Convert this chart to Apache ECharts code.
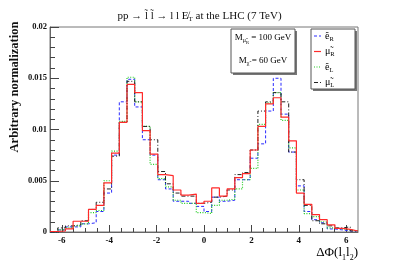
<!DOCTYPE html>
<html>
<head>
<meta charset="utf-8">
<script src="https://cdn.jsdelivr.net/npm/echarts@6/dist/echarts.min.js"></script>
<style>html,body{margin:0;padding:0;background:#fff}#c{width:399px;height:270px}</style>
</head>
<body>
<div id="c"></div>
<script>
// ---- data ----
const xMin = -6.5, xMax = 6.5, binWidth = 0.325;
const seriesNames = ['eR', 'muR', 'eL', 'muL'];
const eR = [0, 0.0002, 0.0005, 0.0005, 0.0008, 0.0009, 0.0020, 0.0038, 0.0075, 0.0127,
  0.0149, 0.0122, 0.0090, 0.0075, 0.0051, 0.0042, 0.0030, 0.0030, 0.0028, 0.0025,
  0.0020, 0.0034, 0.0030, 0.0031, 0.0051, 0.0051, 0.0072, 0.0086, 0.0118, 0.0150,
  0.0115, 0.0078, 0.0045, 0.0020, 0.0012, 0.0009, 0.0003, 0.0002, 0.0001, 0.0001];
const muR = [0.00005, 0.0001, 0.0003, 0.00105, 0.00105, 0.0022, 0.0026, 0.0048, 0.0077, 0.0107,
  0.0144, 0.0136, 0.0099, 0.0076, 0.0056, 0.0055, 0.0041, 0.0036, 0.0037, 0.0028,
  0.0030, 0.0043, 0.0035, 0.0042, 0.0053, 0.0057, 0.0080, 0.0103, 0.0125, 0.0131,
  0.0112, 0.0089, 0.0038, 0.0027, 0.0017, 0.0012, 0.0007, 0.00036, 0.00026, 0.0001];
const eL = [0, 0.0002, 0.0004, 0.0006, 0.0008, 0.0019, 0.0021, 0.0050, 0.0079, 0.0108,
  0.0151, 0.0127, 0.0103, 0.0066, 0.0052, 0.0044, 0.0031, 0.0028, 0.0028, 0.0019,
  0.0018, 0.0026, 0.0031, 0.0032, 0.0042, 0.0051, 0.0062, 0.0105, 0.0126, 0.0136,
  0.0109, 0.0082, 0.0041, 0.0018, 0.0015, 0.0010, 0.0004, 0.0003, 0.0002, 0.0001];
const muL = [0, 0.0004, 0.0006, 0.0007, 0.0011, 0.0022, 0.0029, 0.0042, 0.0074, 0.0107,
  0.0147, 0.0127, 0.0103, 0.0090, 0.0059, 0.0047, 0.0038, 0.0035, 0.0035, 0.0028,
  0.0029, 0.0034, 0.0035, 0.0041, 0.0056, 0.0058, 0.0080, 0.0118, 0.0127, 0.0136,
  0.0127, 0.0078, 0.0051, 0.0026, 0.0011, 0.0008, 0.0006, 0.0004, 0.0005, 0.0001];
const xMajorTicks = [-6, -4, -2, 0, 2, 4, 6];
const xMinorTicks = [-6, -5.5, -5, -4.5, -4, -3.5, -3, -2.5, -2, -1.5, -1, -0.5, 0, 0.5, 1, 1.5, 2, 2.5, 3, 3.5, 4, 4.5, 5, 5.5, 6];
const yTickLabels = ['0', '0.005', '0.01', '0.015', '0.02'];
const legendLabels = ['{m|ẽ}{s|R}', '{m|μ̃}{s|R}', '{m|ẽ}{s|L}', '{m|μ̃}{s|L}'];

// histogram outline points: each bin's left edge, plus final right edge
function histPoints(vals) {
  const pts = vals.map((v, i) => [xMin + i * binWidth, v]);
  pts.push([xMin + vals.length * binWidth, vals[vals.length - 1]]);
  return pts;
}

const styles = {
  eR:  { color: '#2a2aff', type: [3, 2], width: 1 },
  muR: { color: '#ff2a2a', type: 'solid', width: 1.2 },
  eL:  { color: '#22cc22', type: [1, 1.5], width: 1.2 },
  muL: { color: '#222222', type: [4, 2, 1, 2], width: 1 }
};
const valuesByName = { eR, muR, eL, muL };

const serif = '"Liberation Serif", "DejaVu Serif", serif';
const chart = echarts.init(document.getElementById('c'), null, { renderer: 'canvas' });

// manual legend (lines + rich text) inside a shadowed box
const legendGraphics = [];
seriesNames.forEach((n, i) => {
  const y = 36 + i * 15.5;
  legendGraphics.push({ type: 'line', shape: { x1: 314, y1: y, x2: 321, y2: y },
    style: { stroke: styles[n].color, lineWidth: styles[n].width,
      lineDash: styles[n].type === 'solid' ? null : styles[n].type }, silent: true });
  legendGraphics.push({ type: 'text', x: 325, y: y, style: {
    text: legendLabels[i], align: 'left', verticalAlign: 'middle',
    rich: { m: { fontFamily: serif, fontSize: 10, color: '#111' },
            s: { fontFamily: serif, fontSize: 6.5, color: '#111', padding: [6, 0, 0, 0] } } } });
});

chart.setOption({
  animation: false,
  backgroundColor: '#fff',
  title: {
    text: '{a|pp → l̃ l̃ → l l E̸}{s|T}{a| at the LHC (7 TeV)}',
    left: 'center', top: 5,
    textStyle: { fontWeight: 'normal', rich: {
      a: { fontFamily: serif, fontSize: 11, fontWeight: 'normal', color: '#111' },
      s: { fontFamily: serif, fontSize: 7, fontWeight: 'normal', color: '#111', padding: [6, 0, 0, 0] }
    } }
  },
  grid: { left: 50, right: 41, top: 27, bottom: 38, show: true, borderColor: '#777', borderWidth: 1, backgroundColor: 'transparent' },
  xAxis: [{
    type: 'value', min: xMin, max: xMax,
    axisLine: { show: true, onZero: false, lineStyle: { color: '#666', width: 1 } },
    axisTick: { show: true, inside: true, length: 7, customValues: xMajorTicks, lineStyle: { color: '#444' } },
    axisLabel: { show: true, customValues: xMajorTicks, margin: 4, fontFamily: serif, fontWeight: 'bold', fontSize: 9, color: '#111' },
    splitLine: { show: false }
  }, {
    type: 'value', min: xMin, max: xMax, gridIndex: 0, position: 'bottom',
    axisLine: { show: false, onZero: false },
    axisTick: { show: true, inside: true, length: 4, customValues: xMinorTicks, lineStyle: { color: '#444' } },
    axisLabel: { show: false },
    splitLine: { show: false }
  }],
  yAxis: {
    type: 'value', min: 0, max: 0.02, interval: 0.005,
    axisLine: { show: true, onZero: false, lineStyle: { color: '#666', width: 1 } },
    axisTick: { show: true, inside: true, length: 9, lineStyle: { color: '#444' } },
    minorTick: { show: true, splitNumber: 5, length: 5, lineStyle: { color: '#444' } },
    axisLabel: {
      margin: 3, fontFamily: serif, fontWeight: 'bold', fontSize: 8.5, color: '#111',
      formatter: (v) => yTickLabels[Math.round(v / 0.005)]
    },
    splitLine: { show: false }
  },
  series: seriesNames.map((n) => ({
    name: n, type: 'line', step: 'end', xAxisIndex: 0,
    data: histPoints(valuesByName[n]),
    symbol: 'none', showSymbol: false,
    color: styles[n].color,
    lineStyle: { color: styles[n].color, type: styles[n].type, width: styles[n].width },
    z: n === 'muR' ? 3 : 2
  })),
  graphic: [
    // mass box with shadow
    { type: 'rect', shape: { x: 233, y: 31, width: 64, height: 44 }, style: { fill: '#777' }, silent: true },
    { type: 'rect', shape: { x: 231, y: 29, width: 64, height: 44 }, style: { fill: '#fff', stroke: '#555', lineWidth: 1 }, silent: true },
    { type: 'text', x: 263, y: 38, style: {
      text: '{m|M}{s|μ̃}{ss|R}{m| = 100 GeV}', align: 'center', verticalAlign: 'middle',
      rich: { m: { fontFamily: serif, fontSize: 9, color: '#111' },
              s: { fontFamily: serif, fontSize: 6, color: '#111', padding: [4, 0, 0, 0] },
              ss: { fontFamily: serif, fontSize: 4.5, color: '#111', padding: [9, 0, 0, 0] } } } },
    { type: 'text', x: 263, y: 61, style: {
      text: '{m|M}{s|χ̃}{m| = 60 GeV}', align: 'center', verticalAlign: 'middle',
      rich: { m: { fontFamily: serif, fontSize: 9, color: '#111' },
              s: { fontFamily: serif, fontSize: 6, color: '#111', padding: [4, 0, 0, 0] } } } },
    // legend box with shadow
    { type: 'rect', shape: { x: 313, y: 31, width: 44, height: 60 }, style: { fill: '#777' }, silent: true },
    { type: 'rect', shape: { x: 311, y: 29, width: 44, height: 60 }, style: { fill: '#fff', stroke: '#555', lineWidth: 1 }, silent: true },
    ...legendGraphics,
    // y axis title
    { type: 'text', x: 15, y: 87, rotation: Math.PI / 2, style: {
      text: 'Arbitrary normalization', align: 'center', verticalAlign: 'middle',
      fontFamily: serif, fontWeight: 'bold', fontSize: 12.5, fill: '#111' } },
    // x axis title
    { type: 'text', x: 358, y: 253, style: {
      text: '{m|ΔΦ(l}{s|1}{m|l}{s|2}{m|)}', align: 'right', verticalAlign: 'middle',
      rich: { m: { fontFamily: serif, fontSize: 13, color: '#111' },
              s: { fontFamily: serif, fontSize: 8, color: '#111', padding: [10, 0, 0, 0] } } } }
  ]
});
</script>
</body>
</html>
